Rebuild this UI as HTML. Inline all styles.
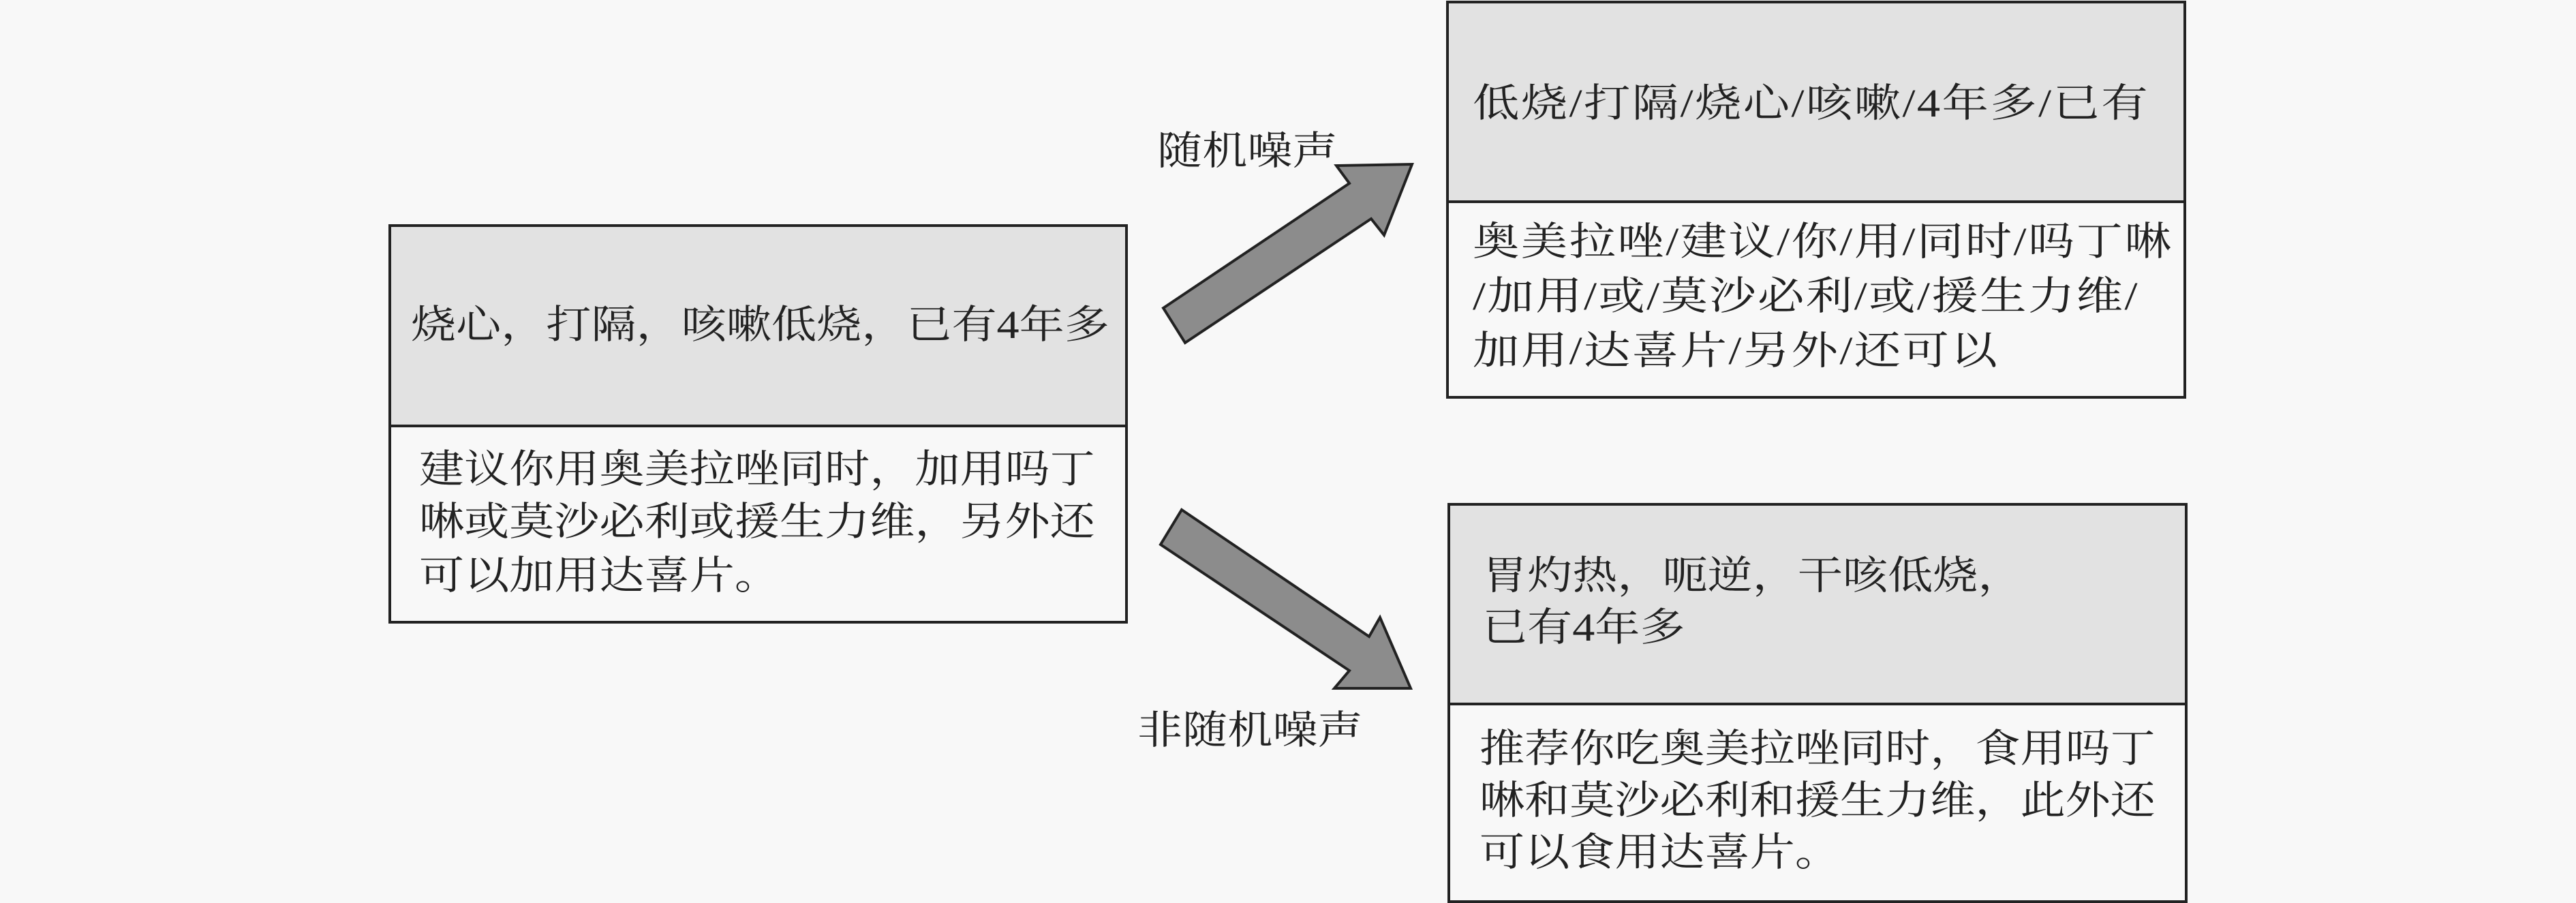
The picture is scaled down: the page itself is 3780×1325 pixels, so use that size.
<!DOCTYPE html>
<html><head><meta charset="utf-8"><style>
html,body{margin:0;padding:0;}
body{width:3780px;height:1325px;background:#f8f8f8;position:relative;overflow:hidden;font-family:"Liberation Serif","Noto Serif CJK SC",serif;color:#222;}
.b{position:absolute;border:4px solid #222;box-sizing:border-box;}
.h{position:absolute;left:0;right:0;top:0;background:#e2e2e2;border-bottom:4px solid #222;}
.t{position:absolute;white-space:nowrap;font-size:58px;line-height:1;transform-origin:0 0;transform:scaleX(1.14);}
.r{transform:scaleX(1.18);letter-spacing:2px;}
</style></head><body>
<div class="b" style="left:570px;top:329px;width:1085px;height:586px;">
 <div class="h" style="height:290px;"></div>
</div>
<div class="t" style="left:603px;top:448px;">烧心，打隔，咳嗽低烧，已有4年多</div>
<div class="t" style="left:615px;top:660px;">建议你用奥美拉唑同时，加用吗丁</div>
<div class="t" style="left:615px;top:737px;">啉或莫沙必利或援生力维，另外还</div>
<div class="t" style="left:615px;top:816px;">可以加用达喜片。</div>

<div class="b" style="left:2122px;top:1px;width:1086px;height:584px;">
 <div class="h" style="height:289px;"></div>
</div>
<div class="t r" style="left:2161px;top:123px;">低烧/打隔/烧心/咳嗽/4年多/已有</div>
<div class="t r" style="left:2161px;top:326px;">奥美拉唑/建议/你/用/同时/吗丁啉</div>
<div class="t r" style="left:2161px;top:406px;">/加用/或/莫沙必利/或/援生力维/</div>
<div class="t r" style="left:2161px;top:486px;">加用/达喜片/另外/还可以</div>

<div class="b" style="left:2124px;top:738px;width:1086px;height:587px;">
 <div class="h" style="height:289px;"></div>
</div>
<div class="t" style="left:2175px;top:816px;">胃灼热，呃逆，干咳低烧，</div>
<div class="t" style="left:2175px;top:892px;">已有4年多</div>
<div class="t" style="left:2171px;top:1070px;">推荐你吃奥美拉唑同时，食用吗丁</div>
<div class="t" style="left:2171px;top:1146px;">啉和莫沙必利和援生力维，此外还</div>
<div class="t" style="left:2171px;top:1222px;">可以食用达喜片。</div>

<div class="t" style="left:1698px;top:193px;">随机噪声</div>
<div class="t" style="left:1669px;top:1043px;">非随机噪声</div>

<svg width="3780" height="1325" style="position:absolute;left:0;top:0;">
 <polygon points="1707,452 1980,269 1961,243 2072,241 2031,345 2012,321 1739,503" fill="#8c8c8c" stroke="#222" stroke-width="4"/>
 <polygon points="1734,748 2009,934 2025,906 2070,1010 1958,1010 1980,984 1703,799" fill="#8c8c8c" stroke="#222" stroke-width="4"/>
</svg>
</body></html>
